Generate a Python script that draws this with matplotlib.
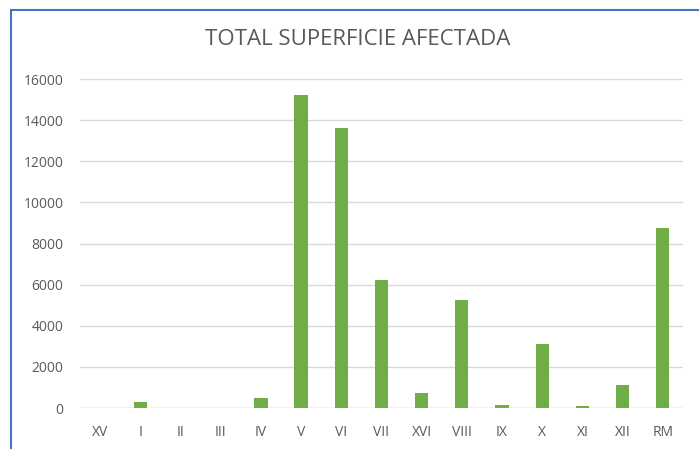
import matplotlib
matplotlib.use('Agg')
import matplotlib.pyplot as plt
from matplotlib.lines import Line2D

regiones = ['XV', 'I', 'II', 'III', 'IV', 'V', 'VI', 'VII', 'XVI', 'VIII', 'IX', 'X', 'XI', 'XII', 'RM']
superficie = [0, 300, 0, 0, 500, 15200, 13600, 6220, 730, 5230, 140, 3100, 120, 1100, 8750]
yticks = [0, 2000, 4000, 6000, 8000, 10000, 12000, 14000, 16000]

plt.rcParams['font.family'] = ['Open Sans', 'DejaVu Sans']
txt = '#595959'

fig = plt.figure(figsize=(6.99, 4.49), dpi=100)
ax = fig.add_axes([0.1145, 0.0913, 0.8625, 0.7327])

x = range(len(regiones))
ax.bar(x, superficie, width=0.33, color='#70AD47', zorder=3)

ax.set_xlim(-0.5, len(regiones) - 0.5)
ax.set_ylim(0, 16000)
ax.set_yticks(yticks)
ax.set_yticklabels([str(v) for v in yticks], fontsize=10, color=txt)
ax.set_xticks(list(x))
ax.set_xticklabels(regiones, fontsize=10, color=txt)
ax.grid(axis='y', color='#D9D9D9', linewidth=1, zorder=0)
ax.tick_params(length=0)
ax.tick_params(axis='x', pad=12)
ax.tick_params(axis='y', pad=12)
for s in ax.spines.values():
    s.set_visible(False)
ax.axhline(0, color='#D9D9D9', linewidth=1, zorder=2)

fig.text(0.512, 0.911, 'TOTAL SUPERFICIE AFECTADA', ha='center', va='center',
         fontsize=16, color=txt)

# borde azul del grafico
fig.add_artist(Line2D([11/699, 11/699], [0, 1 - 10/449], color='#4472C4', linewidth=1.5))
fig.add_artist(Line2D([11/699, 1], [1 - 10/449, 1 - 10/449], color='#4472C4', linewidth=1.5))

fig.savefig('out.png', dpi=100)
